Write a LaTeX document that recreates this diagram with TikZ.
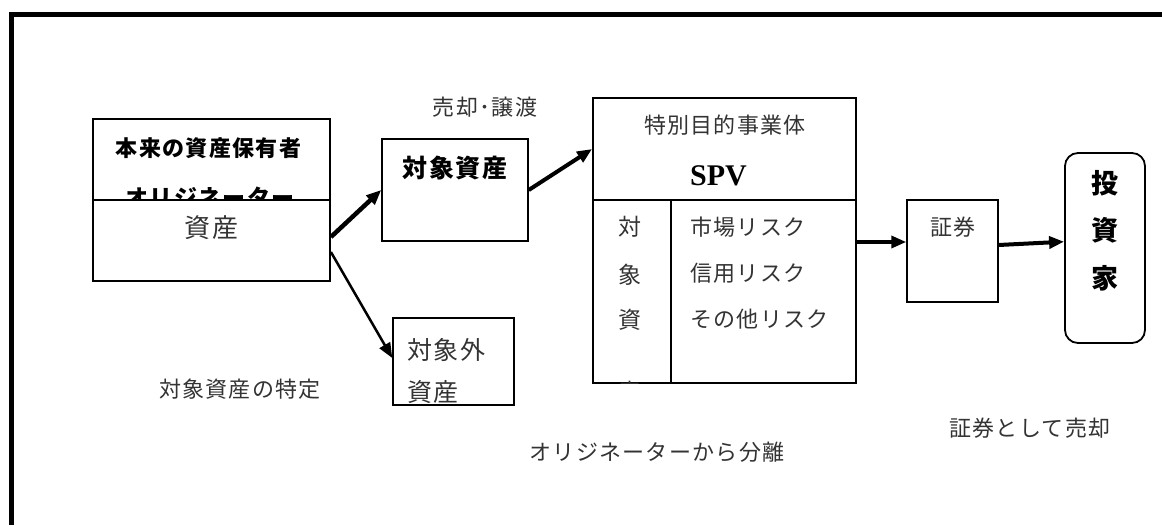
\documentclass[tikz,border=0pt]{standalone}
\usepackage{fontspec}
\setmainfont{Liberation Serif}
\newfontfamily\jp{Noto Sans CJK JP}[LetterSpace=6]
\usetikzlibrary{arrows.meta}
\tikzset{
  bx/.style={draw, line width=1.8pt, inner sep=0pt},
  lbl/.style={inner sep=0pt, font=\jp\fontsize{22}{26}\selectfont, text=black!80},
  blbl/.style={inner sep=0pt, font=\jp\bfseries\fontsize{22}{26}\selectfont, text=black},
  arr/.style={-{Triangle[length=15pt,width=12pt]}, line width=#1},
  arr/.default=4pt
}
\begin{document}
\begin{tikzpicture}[x=1pt,y=1pt]
\useasboundingbox (0,0) rectangle (1162,-525);
% outer frame
\draw[line width=4.8pt, line join=miter] (11.7,-525) -- (11.7,-14.2) -- (1162,-14.2);

% boxes
\node[bx, minimum width=237pt, minimum height=162pt] (orig) at (211.5,-200) {};
\draw[line width=1.8pt] (orig.west) -- (orig.east);
\node[bx, line width=1.5pt, minimum width=146pt, minimum height=102pt] (target) at (455,-190) {};
\node[bx, minimum width=263pt, minimum height=102pt] (spvtop) at (724.5,-149) {};
\node[bx, minimum width=78pt, minimum height=183pt] (spvcol) at (632,-291.5) {};
\node[bx, minimum width=185pt, minimum height=183pt] (spvrisk) at (763.5,-291.5) {};
\node[bx, line width=1.5pt, minimum width=121pt, minimum height=87pt] (nontarget) at (453.5,-361.5) {};
\node[bx, line width=1.5pt, minimum width=91pt, minimum height=102pt] (sec) at (952.5,-251) {};
\node[bx, rounded corners=13pt, minimum width=80pt, minimum height=190pt] (inv) at (1105,-248) {};

% texts in originator box
\node[blbl] (t1) at (208.5,-148) {本来の資産保有者};
\begin{scope}
  \clip (orig.north west) rectangle (orig.east);
  \node[blbl, font=\jp\bfseries\fontsize{23}{26}\selectfont] (t2) at (210,-198) {オリジネーター};
\end{scope}
\node[lbl, font=\jp\fontsize{26}{30}\selectfont] (t3) at (211.5,-228) {資産};

% target asset
\node[blbl, font=\jp\bfseries\fontsize{25}{30}\selectfont] (t4) at (455,-168) {対象資産};
\node[lbl] (t5) at (485,-107) {売却･譲渡};

% SPV
\node[lbl] (t6) at (725,-125) {特別目的事業体};
\node[inner sep=0pt, font=\bfseries\fontsize{30}{34}\selectfont] (t7) at (718.5,-176) {SPV};
\node[lbl, font=\jp\fontsize{23}{26}\selectfont] (c1) at (630,-227) {対};
\node[lbl, font=\jp\fontsize{23}{26}\selectfont] (c2) at (630,-275) {象};
\node[lbl, font=\jp\fontsize{23}{26}\selectfont] (c3) at (630,-320) {資};
\begin{scope}
  \clip (spvcol.north west) rectangle (spvcol.south east);
  \node[lbl, font=\jp\fontsize{23}{26}\selectfont] (c4) at (630,-392) {産};
\end{scope}
\node[lbl, anchor=west] (r1) at (690,-227) {市場リスク};
\node[lbl, anchor=west] (r2) at (690,-273) {信用リスク};
\node[lbl, anchor=west] (r3) at (690,-319) {その他リスク};

% non-target
\node[lbl, anchor=west, font=\jp\fontsize{25}{30}\selectfont] (n1) at (407,-350) {対象外};
\begin{scope}
  \clip (nontarget.north west) rectangle (nontarget.south east);
  \node[lbl, anchor=west, font=\jp\fontsize{25}{30}\selectfont] (n2) at (407,-392) {資産};
\end{scope}

% securities and investor
\node[lbl] (s1) at (953,-227) {証券};
\node[blbl, font=\jp\bfseries\fontsize{27}{30}\selectfont] (i1) at (1105,-183) {投};
\node[blbl, font=\jp\bfseries\fontsize{27}{30}\selectfont] (i2) at (1105,-230) {資};
\node[blbl, font=\jp\bfseries\fontsize{27}{30}\selectfont] (i3) at (1105,-278) {家};

% free labels
\node[lbl] (l1) at (240,-389) {対象資産の特定};
\node[lbl] (l2) at (657,-452) {オリジネーターから分離};
\node[lbl] (l3) at (1030,-428) {証券として売却};

% arrows
\draw[arr=4.5pt] ([yshift=-37pt]orig.east) -- (target.west);
\draw[arr=2.5pt] ([yshift=-52pt]orig.east) -- ([yshift=3.5pt]nontarget.west);
\draw[arr=4pt] (target.east) -- (spvtop.west);
\draw[arr=3.5pt] ([yshift=49.5pt]spvrisk.east) -- ([yshift=9pt]sec.west);
\draw[arr=4pt] ([yshift=6pt]sec.east) -- ([yshift=6.3pt]inv.west);
\end{tikzpicture}
\end{document}
